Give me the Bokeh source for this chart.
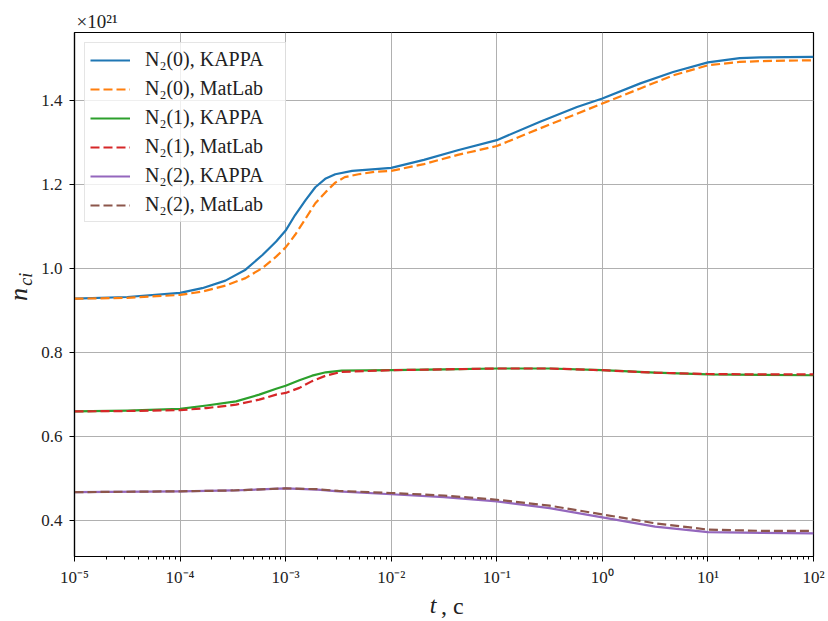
from bokeh.plotting import figure
from bokeh.models import (Range1d, FixedTicker, LogTicker, CustomJSTickFormatter,
                          LinearAxis, LogAxis, Legend, LegendItem)
from bokeh.embed import file_html
from bokeh.resources import INLINE

# ---- data (values in units of 1e21) ----
t_n0_kappa = [1e-5, 3.16e-5, 1e-4, 1.62e-4, 2.69e-4, 4.17e-4, 6.03e-4, 8.13e-4, 1e-3, 1.23e-3,
              1.55e-3, 1.91e-3, 2.40e-3, 2.95e-3, 4.27e-3, 7.08e-3, 1e-2, 2.04e-2, 4.27e-2, 1e-1,
              0.257, 0.575, 1, 2.29, 4.68, 10, 20, 31.6, 100]
n0_kappa = [0.928, 0.932, 0.942, 0.953, 0.971, 0.997, 1.032, 1.064, 1.09, 1.127,
            1.163, 1.193, 1.214, 1.224, 1.232, 1.236, 1.239, 1.258, 1.281, 1.305,
            1.349, 1.384, 1.404, 1.44, 1.467, 1.490, 1.500, 1.502, 1.503]

t_n0_matlab = [1e-5, 3.16e-5, 1e-4, 1.62e-4, 2.69e-4, 4.17e-4, 6.03e-4, 8.13e-4, 1e-3, 1.23e-3,
               1.55e-3, 1.91e-3, 2.40e-3, 2.95e-3, 3.63e-3, 4.9e-3, 7.08e-3, 1e-2, 2.04e-2, 4.27e-2,
               1e-1, 0.257, 0.575, 1, 2.29, 4.68, 10, 20, 31.6, 100]
n0_matlab = [0.928, 0.930, 0.937, 0.945, 0.959, 0.977, 1.001, 1.028, 1.05, 1.08,
             1.119, 1.155, 1.182, 1.204, 1.217, 1.224, 1.230, 1.232, 1.248, 1.270,
             1.291, 1.333, 1.368, 1.392, 1.428, 1.459, 1.483, 1.491, 1.493, 1.495]

t_n1 = [1e-5, 3.16e-5, 1e-4, 1.78e-4, 3.39e-4, 5.62e-4, 8.13e-4, 1e-3, 1.35e-3, 1.78e-3,
        2.4e-3, 3.39e-3, 1e-2, 3.16e-2, 1e-1, 3.16e-1, 1, 3.16, 10, 31.6, 100]
n1_kappa = [0.660, 0.662, 0.666, 0.674, 0.684, 0.700, 0.714, 0.721, 0.734, 0.745,
            0.753, 0.757, 0.758, 0.760, 0.762, 0.762, 0.758, 0.752, 0.748, 0.747, 0.746]
n1_matlab = [0.660, 0.661, 0.663, 0.668, 0.676, 0.688, 0.700, 0.704, 0.716, 0.732,
             0.745, 0.754, 0.758, 0.760, 0.762, 0.762, 0.758, 0.752, 0.749, 0.748, 0.748]

t_n2 = [1e-5, 1e-4, 3.16e-4, 1e-3, 2e-3, 3.16e-3, 1e-2, 3.16e-2, 1e-1, 3.16e-1, 1, 3.16, 10, 31.6, 100]
n2_kappa = [0.468, 0.470, 0.472, 0.477, 0.474, 0.470, 0.463, 0.456, 0.446, 0.430, 0.408, 0.386, 0.373, 0.371, 0.370]
n2_matlab = [0.468, 0.470, 0.472, 0.477, 0.475, 0.471, 0.466, 0.460, 0.450, 0.436, 0.415, 0.394, 0.379, 0.376, 0.376]

y_ticks = [0.4, 0.6, 0.8, 1.0, 1.2, 1.4]
series_labels = ["N₂(0), KAPPA", "N₂(0), MatLab", "N₂(1), KAPPA",
                 "N₂(1), MatLab", "N₂(2), KAPPA", "N₂(2), MatLab"]
colors = ["#1f77b4", "#ff7f0e", "#2ca02c", "#d62728", "#9467bd", "#8c564b"]

FONT = "Liberation Serif"
TXT = "#222222"
X_LO, X_HI = 1e-5, 1e2
Y_LO, Y_HI = 0.315, 1.561

p = figure(width=828, height=621, x_axis_type="log",
           x_range=Range1d(X_LO, X_HI), y_range=Range1d(Y_LO, Y_HI),
           output_backend="svg", toolbar_location=None,
           min_border_left=73, min_border_right=15, min_border_top=32, min_border_bottom=63)

p.outline_line_color = "black"
p.outline_line_width = 1.2
p.background_fill_color = "white"
p.border_fill_color = "white"

# multiplier shown above the frame
p.title.text = "×10²¹"
p.title.align = "left"
p.title.offset = 2
p.title.standoff = 2
p.title.text_font = FONT
p.title.text_font_style = "normal"
p.title.text_font_size = "19px"
p.title.text_color = TXT

# main axes
xa = p.xaxis[0]
ya = p.yaxis[0]
xa.ticker = LogTicker(num_minor_ticks=10)
xa.formatter = CustomJSTickFormatter(code="""
const sup = {'-':'\u207b','0':'\u2070','1':'\u00b9','2':'\u00b2','3':'\u00b3','4':'\u2074',
             '5':'\u2075','6':'\u2076','7':'\u2077','8':'\u2078','9':'\u2079'};
const e = Math.round(Math.log10(tick));
return '10' + String(e).split('').map(c => sup[c]).join('');
""")
ya.ticker = FixedTicker(ticks=y_ticks)
ya.major_label_overrides = {v: f"{v:.1f}" for v in y_ticks}
for ax in (xa, ya):
    ax.axis_line_color = "black"
    ax.axis_line_width = 1.2
    ax.major_tick_in = 0
    ax.major_tick_out = 5
    ax.minor_tick_in = 0
    ax.minor_tick_out = 3
    ax.major_tick_line_color = "black"
    ax.minor_tick_line_color = "black"
    ax.major_label_text_font = FONT
    ax.major_label_text_font_size = "17px"
    ax.major_label_text_color = TXT
ya.minor_tick_line_color = None
xa.major_label_standoff = 6
ya.major_label_standoff = 7

p.xgrid.grid_line_color = "#b0b0b0"
p.ygrid.grid_line_color = "#b0b0b0"
p.xgrid.grid_line_width = 1
p.ygrid.grid_line_width = 1


def label_axis(cls, text, size, italic, standoff):
    return cls(axis_label=text, ticker=FixedTicker(ticks=[]),
               axis_line_color=None, major_tick_line_color=None, minor_tick_line_color=None,
               major_tick_out=0, minor_tick_out=0, major_tick_in=0, minor_tick_in=0,
               major_label_text_font_size="0px", major_label_standoff=0,
               axis_label_standoff=standoff, axis_label_text_font=FONT,
               axis_label_text_font_size=size,
               axis_label_text_font_style="italic" if italic else "normal",
               axis_label_text_color=TXT)


EM, EN, THIN = "\u2003", "\u2002", "\u2009"
# y label: italic n with subscript ci (leading spaces lift the subscript)
p.add_layout(label_axis(LinearAxis, EM + EN + THIN + "ci", "18px", True, 3), "left")
p.add_layout(label_axis(LinearAxis, "n", "26px", True, -20), "left")
# x label: italic t followed by ", с" on the same line
p.add_layout(label_axis(LogAxis, "t" + EN + THIN + THIN, "24px", True, 2), "below")
p.add_layout(label_axis(LogAxis, EN + THIN + ", с", "24px", False, -28), "below")

# lines
series = [
    (t_n0_kappa, n0_kappa, "solid"),
    (t_n0_matlab, n0_matlab, "9 4"),
    (t_n1, n1_kappa, "solid"),
    (t_n1, n1_matlab, "9 4"),
    (t_n2, n2_kappa, "solid"),
    (t_n2, n2_matlab, "9 4"),
]
items = []
for (xs, ys, dash), c, lab in zip(series, colors, series_labels):
    r = p.line(xs, ys, line_color=c, line_width=2.2, line_dash=dash, line_join="round")
    items.append(LegendItem(label=lab, renderers=[r]))

legend = Legend(items=items, location="top_left")
legend.label_text_font = FONT
legend.label_text_font_size = "20px"
legend.label_text_color = TXT
legend.glyph_width = 40
legend.glyph_height = 22
legend.label_height = 22
legend.label_width = 135
legend.spacing = 6
legend.padding = 5
legend.margin = 10
legend.label_standoff = 15
legend.border_line_color = "#cccccc"
legend.border_line_width = 1
legend.background_fill_alpha = 0.8
p.add_layout(legend, "center")

open("out.html", "w").write(file_html(p, INLINE))
